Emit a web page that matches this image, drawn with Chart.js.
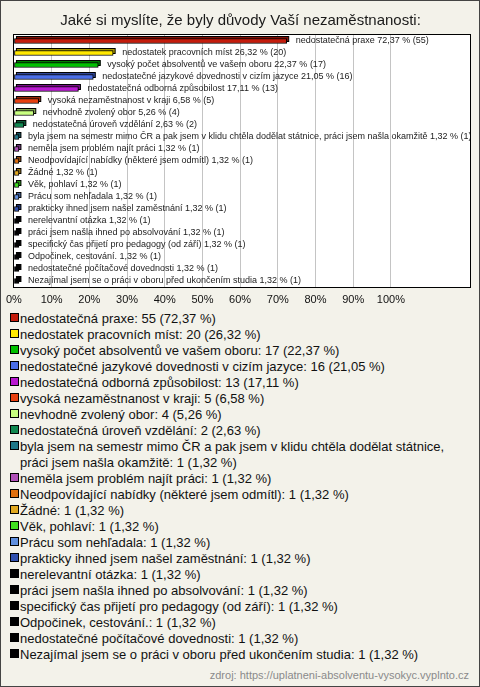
<!DOCTYPE html>
<html>
<head>
<meta charset="utf-8">
<script src="https://cdn.jsdelivr.net/npm/chart.js@4.4.0/dist/chart.umd.min.js"></script>
<style>
  html, body { margin: 0; padding: 0; background: #fff; }
  #frame {
    position: relative; width: 480px; height: 687px; box-sizing: border-box;
    border: 1px solid #444; background: #f3f2ea; overflow: hidden;
    font-family: "Liberation Sans", Arial, sans-serif;
  }
  #chart { position: absolute; left: -1px; top: -1px; }
  #legend { position: absolute; left: 8px; top: 310px; width: 464px; font-size: 13px; line-height: 16px; color: #111; }
  #legend .item { position: relative; padding-left: 11px; }
  #legend .sq { position: absolute; left: 1px; top: 2px; width: 9px; height: 9px; box-sizing: border-box; border: 1px solid #000; }
  #source { position: absolute; right: 10px; top: 668px; font-size: 11px; color: #8a8a8a; }
</style>
</head>
<body>
<div id="frame">
  <canvas id="chart" width="480" height="305"></canvas>
  <div id="legend"></div>
  <div id="source">zdroj: https://uplatneni-absolventu-vysokyc.vyplnto.cz</div>
</div>
<script>
// ===== Data =====
const categories = [
  'nedostatečná praxe',
  'nedostatek pracovních míst',
  'vysoký počet absolventů ve vašem oboru',
  'nedostatečné jazykové dovednosti v cizím jazyce',
  'nedostatečná odborná způsobilost',
  'vysoká nezaměstnanost v kraji',
  'nevhodně zvolený obor',
  'nedostatečná úroveň vzdělání',
  'byla jsem na semestr mimo ČR a pak jsem v klidu chtěla dodělat státnice, práci jsem našla okamžitě',
  'neměla jsem problém najít práci',
  'Neodpovídající nabídky (některé jsem odmítl)',
  'Žádné',
  'Věk, pohlaví',
  'Prácu som nehľadala',
  'prakticky ihned jsem našel zaměstnání',
  'nerelevantní otázka',
  'práci jsem našla ihned po absolvování',
  'specifický čas přijetí pro pedagogy (od září)',
  'Odpočinek, cestování.',
  'nedostatečné počítačové dovednosti',
  'Nezajímal jsem se o práci v oboru před ukončením studia'
];
const counts = [55, 20, 17, 16, 13, 5, 4, 2, 1, 1, 1, 1, 1, 1, 1, 1, 1, 1, 1, 1, 1];
const percents = [72.37, 26.32, 22.37, 21.05, 17.11, 6.58, 5.26, 2.63, 1.32, 1.32, 1.32, 1.32, 1.32, 1.32, 1.32, 1.32, 1.32, 1.32, 1.32, 1.32, 1.32];
const colors = [
  '#c41c0c', '#ffe800', '#00c000', '#4a6ee8', '#b818d0', '#e84010', '#c8ff80',
  '#108850', '#207888', '#b050b8', '#e07010', '#e0a820', '#40e020', '#6090e0',
  '#3050b0', '#000000', '#000000', '#000000', '#000000', '#000000', '#000000'
];
const xTicks = [0, 10, 20, 30, 40, 50, 60, 70, 80, 90, 100];

const fmt = v => v.toFixed(2).replace('.', ',');

// ===== Plugins =====
const plotBox = {
  id: 'plotBox',
  beforeDraw(chart) {
    const { ctx, chartArea: a } = chart;
    ctx.save();
    ctx.fillStyle = '#ffffff';
    ctx.fillRect(a.left, a.top, a.right - a.left, a.bottom - a.top);
    ctx.restore();
  },
  afterDraw(chart) {
    const { ctx, chartArea: a } = chart;
    ctx.save();
    ctx.strokeStyle = '#000';
    ctx.lineWidth = 1;
    ctx.strokeRect(Math.round(a.left) - 0.5, Math.round(a.top) - 0.5,
      Math.round(a.right - a.left) + 1, Math.round(a.bottom - a.top) + 1);
    ctx.restore();
  }
};

// darker back face to give the bars their 3D look
const barDepth = {
  id: 'barDepth',
  beforeDatasetsDraw(chart) {
    const { ctx } = chart;
    const meta = chart.getDatasetMeta(0);
    ctx.save();
    meta.data.forEach((el, i) => {
      const p = el.getProps(['x', 'y', 'base', 'height'], true);
      const top = p.y - p.height / 2;
      const w = p.x - p.base;
      ctx.fillStyle = colors[i];
      ctx.fillRect(p.base + 2, top - 2, w, p.height);
      ctx.fillStyle = 'rgba(0,0,0,0.35)';
      ctx.fillRect(p.base + 2, top - 2, w, p.height);
      ctx.strokeStyle = '#000';
      ctx.lineWidth = 1;
      ctx.strokeRect(p.base + 2, top - 2, w, p.height);
    });
    ctx.restore();
  },
  afterDatasetsDraw(chart) {
    const { ctx } = chart;
    const meta = chart.getDatasetMeta(0);
    ctx.save();
    ctx.font = '9px "Liberation Sans", Arial, sans-serif';
    ctx.fillStyle = '#222';
    ctx.textBaseline = 'middle';
    meta.data.forEach((el, i) => {
      const text = categories[i] + ' ' + fmt(percents[i]) + ' % (' + counts[i] + ')';
      ctx.fillText(text, el.x + 9, el.y);
    });
    ctx.restore();
  }
};

// ===== Chart =====
const chart = new Chart(document.getElementById('chart'), {
  type: 'bar',
  data: {
    labels: categories,
    datasets: [{
      data: percents,
      backgroundColor: colors,
      borderColor: '#000',
      borderWidth: 1,
      borderSkipped: false,
      barThickness: 5
    }]
  },
  options: {
    indexAxis: 'y',
    responsive: false,
    animation: false,
    devicePixelRatio: 1,
    layout: { padding: { left: 11, right: 10, top: 0, bottom: 0 } },
    plugins: {
      legend: { display: false },
      tooltip: { enabled: false },
      title: {
        display: true,
        text: 'Jaké si myslíte, že byly důvody Vaší nezaměstnanosti:',
        color: '#1a1a1a',
        font: { family: '"Liberation Sans", Arial, sans-serif', size: 15, weight: 'normal' },
        padding: { top: 12, bottom: 5 }
      }
    },
    scales: {
      x: {
        min: 0,
        max: 121,
        afterBuildTicks: s => { s.ticks = xTicks.map(v => ({ value: v })); },
        afterFit: s => { s.height = 18; },
        border: { display: false },
        grid: { color: '#c4c4c4', drawTicks: false },
        ticks: {
          padding: 6,
          color: '#111',
          font: { family: '"Liberation Sans", Arial, sans-serif', size: 11 },
          callback: v => v + '%'
        }
      },
      y: { display: false }
    }
  },
  plugins: [plotBox, barDepth]
});

// ===== Legend =====
const legend = document.getElementById('legend');
categories.forEach((c, i) => {
  const item = document.createElement('div');
  item.className = 'item';
  item.innerHTML = '<span class="sq" style="background:' + colors[i] + '"></span>' +
    c + ': ' + counts[i] + ' (' + fmt(percents[i]) + ' %)';
  legend.appendChild(item);
});
</script>
</body>
</html>
